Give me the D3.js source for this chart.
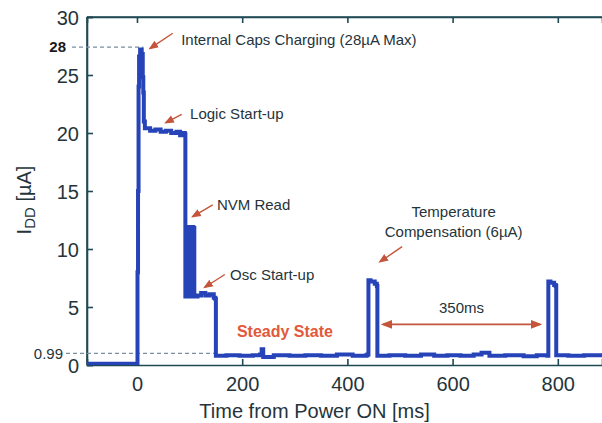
<!DOCTYPE html>
<html>
<head>
<meta charset="utf-8">
<title>IDD power-on</title>
<script src="https://cdnjs.cloudflare.com/ajax/libs/d3/7.8.5/d3.min.js"></script>
<style>
  body { margin: 0; background: #fff; }
  text { font-family: "Liberation Sans", Arial, sans-serif; }
</style>
</head>
<body>
<script>
// trace: time [ms] / current [uA]
var timeMs = [-95,-40,-1,0,1,2,3,4,6,9,11,12,13,15,25,35,45,55,65,75,82,87,91,
  92,93,95,96,98,99,101,102,104,105,106,107,108,109,115,122,130,138,146,149,
  150,170,195,220,234,237,240,260,290,320,350,380,410,436,438,
  440,444,452,456,457,480,510,540,565,590,615,640,655,670,700,735,760,780,
  782,786,793,796,797,820,850,884];
var currentUA = [0.1,0.1,0.1,0.1,8,15,24,26.6,27.2,26.8,24.8,23.5,21,20.4,20.2,20.3,20.1,20.2,20.0,20.1,19.8,20.0,19.9,
  5.9,11.8,11.9,5.9,11.8,6.0,11.9,5.9,11.8,5.9,11.9,6.0,11.8,5.9,6.0,6.2,6.0,6.1,5.8,5.7,
  0.8,0.85,0.8,0.85,0.9,1.35,0.7,0.85,0.8,0.85,0.8,0.9,0.8,0.85,0.9,
  7.3,7.2,7.0,6.8,0.8,0.85,0.8,0.9,0.8,0.85,0.8,0.9,1.05,0.8,0.85,0.75,0.85,0.8,
  7.2,7.1,6.9,6.8,0.85,0.8,0.85,0.8];

var xTicks = [0, 200, 400, 600, 800];
var yTicks = [0, 5, 10, 15, 20, 25, 30];

var marks = [28, 0.99];      // dashed reference levels
var markLevels = [27.4, 1.0];  // where they are drawn

// annotations: text position + arrow from (x0,y0) to tip (x1,y1), data units
var notes = [
  {lines: ["Internal Caps Charging (28\u00b5A Max)"], t: 84, v: 27.6, x0: 68, y0: 28.6, x1: 25, y1: 27.3, anchor: "start"},
  {lines: ["Logic Start-up"], t: 101, v: 21.2, x0: 85, y0: 21.6, x1: 55, y1: 20.9, anchor: "start"},
  {lines: ["NVM Read"], t: 152, v: 13.4, x0: 144, y0: 13.8, x1: 106, y1: 12.8, anchor: "start"},
  {lines: ["Osc Start-up"], t: 177, v: 7.3, x0: 167, y0: 7.8, x1: 129, y1: 6.7, anchor: "start"},
  {lines: ["Temperature", "Compensation (6\u00b5A)"], t: 602, v: 12.8, x0: 504, y0: 10.2, x1: 462, y1: 8.9, anchor: "middle"}
];
var spanLabel = "350ms";
var spanFrom = 468, spanTo = 766, spanLevel = 3.5;

var W = 602, H = 423;
var margin = {left: 87, top: 17, bottom: 58};

var svg = d3.select("body").append("svg")
  .attr("width", W)
  .attr("height", H);

var x = d3.scaleLinear().domain([-95, 884]).range([margin.left, W]);
var y = d3.scaleLinear().domain([0, 30]).range([H - margin.bottom, margin.top]);

var axisCol = "#1f4a55", textCol = "#25343a", blue = "#2743b8", red = "#c4553a";

svg.append("clipPath").attr("id", "clip")
  .append("rect")
  .attr("x", margin.left).attr("y", margin.top)
  .attr("width", W - margin.left).attr("height", H - margin.bottom - margin.top);

// frame: left, top, bottom (right edge is cut off in the original)
var frame = svg.append("g").attr("stroke", axisCol).attr("stroke-width", 1.6);
frame.append("line").attr("x1", x.range()[0]).attr("x2", x.range()[0]).attr("y1", y(0)).attr("y2", y(30));
frame.append("line").attr("x1", x.range()[0]).attr("x2", W).attr("y1", y(30)).attr("y2", y(30));

var xAxis = svg.append("g")
  .attr("transform", "translate(0," + y(0) + ")")
  .call(d3.axisBottom(x).tickValues(xTicks).tickSize(-6).tickPadding(11).tickFormat(d3.format("d")));
var xTop = svg.append("g")
  .attr("transform", "translate(0," + y(30) + ")")
  .call(d3.axisTop(x).tickValues(xTicks).tickSize(-6).tickFormat(""));
var yAxis = svg.append("g")
  .attr("transform", "translate(" + x.range()[0] + ",0)")
  .call(d3.axisLeft(y).tickValues(yTicks).tickSize(-6).tickPadding(8));

[xAxis, xTop, yAxis].forEach(function(g) {
  g.select(".domain").attr("stroke", axisCol).attr("stroke-width", 1.6);
  g.selectAll(".tick line").attr("stroke", axisCol).attr("stroke-width", 1.6);
  g.selectAll(".tick text").attr("fill", textCol).attr("font-size", 20)
    .attr("font-family", "Liberation Sans, Arial, sans-serif");
});
yAxis.selectAll(".tick text").attr("dy", "0.35em");
xAxis.selectAll(".tick text").attr("dy", "0.75em");

// dashed reference levels + labels
svg.append("line")
  .attr("x1", 72).attr("x2", x(12)).attr("y1", y(markLevels[0])).attr("y2", y(markLevels[0]))
  .attr("stroke", "#7a8ea0").attr("stroke-width", 1.2).attr("stroke-dasharray", "4,3");
svg.append("line")
  .attr("x1", 66).attr("x2", x(150)).attr("y1", y(markLevels[1])).attr("y2", y(markLevels[1]))
  .attr("stroke", "#7a8ea0").attr("stroke-width", 1.2).attr("stroke-dasharray", "4,3");
svg.append("text").attr("x", 66).attr("y", y(markLevels[0])).attr("dy", "0.35em")
  .attr("text-anchor", "end").attr("font-size", 15).attr("font-weight", "bold")
  .attr("fill", "#1a1a1a").text(marks[0]);
svg.append("text").attr("x", 63).attr("y", y(markLevels[1])).attr("dy", "0.35em")
  .attr("text-anchor", "end").attr("font-size", 15)
  .attr("fill", textCol).text(marks[1]);

// the trace (scope samples, held between points)
var line = d3.line()
  .curve(d3.curveStepAfter)
  .x(function(d, i) { return x(timeMs[i]); })
  .y(function(d) { return y(d); });
svg.append("path")
  .datum(currentUA)
  .attr("clip-path", "url(#clip)")
  .attr("fill", "none")
  .attr("stroke", blue)
  .attr("stroke-width", 4)
  .attr("d", line);

// arrowheads
var defs = svg.append("defs");
defs.append("marker").attr("id", "tip")
  .attr("viewBox", "0 0 10 10").attr("refX", 8).attr("refY", 5)
  .attr("markerWidth", 7).attr("markerHeight", 7).attr("orient", "auto-start-reverse")
  .append("path").attr("d", "M0,1 L10,5 L0,9 z").attr("fill", red);

notes.forEach(function(n) {
  svg.append("line")
    .attr("x1", x(n.x0)).attr("y1", y(n.y0)).attr("x2", x(n.x1)).attr("y2", y(n.y1))
    .attr("stroke", red).attr("stroke-width", 1.4)
    .attr("marker-end", "url(#tip)");
  var t = svg.append("text")
    .attr("x", x(n.t)).attr("y", y(n.v))
    .attr("text-anchor", n.anchor)
    .attr("font-size", 15).attr("fill", textCol);
  n.lines.forEach(function(s, i) {
    t.append("tspan").attr("x", x(n.t)).attr("dy", i ? 20 : 0).text(s);
  });
});

svg.append("text")
  .attr("x", x(190)).attr("y", y(2.4))
  .attr("font-size", 16).attr("font-weight", "bold").attr("fill", "#e2583a")
  .text("Steady State");

// 350ms span
svg.append("line")
  .attr("x1", x(spanFrom)).attr("x2", x(spanTo)).attr("y1", y(spanLevel)).attr("y2", y(spanLevel))
  .attr("stroke", red).attr("stroke-width", 1.6)
  .attr("marker-start", "url(#tip)").attr("marker-end", "url(#tip)");
svg.append("text")
  .attr("x", x((spanFrom + spanTo) / 2)).attr("y", y(4.5))
  .attr("text-anchor", "middle").attr("font-size", 15).attr("fill", textCol)
  .text(spanLabel);

// axis titles
svg.append("text")
  .attr("x", (x(0) + x(660)) / 2 + 4).attr("y", 418)
  .attr("text-anchor", "middle").attr("font-size", 20).attr("fill", textCol)
  .text("Time from Power ON [ms]");

var yl = svg.append("text")
  .attr("transform", "translate(31," + 200 + ") rotate(-90)")
  .attr("text-anchor", "middle").attr("font-size", 20).attr("fill", textCol);
yl.append("tspan").text("I");
yl.append("tspan").attr("font-size", 15).attr("dy", 4).text("DD");
yl.append("tspan").attr("dy", -4).text(" [\u00b5A]");
</script>
</body>
</html>
